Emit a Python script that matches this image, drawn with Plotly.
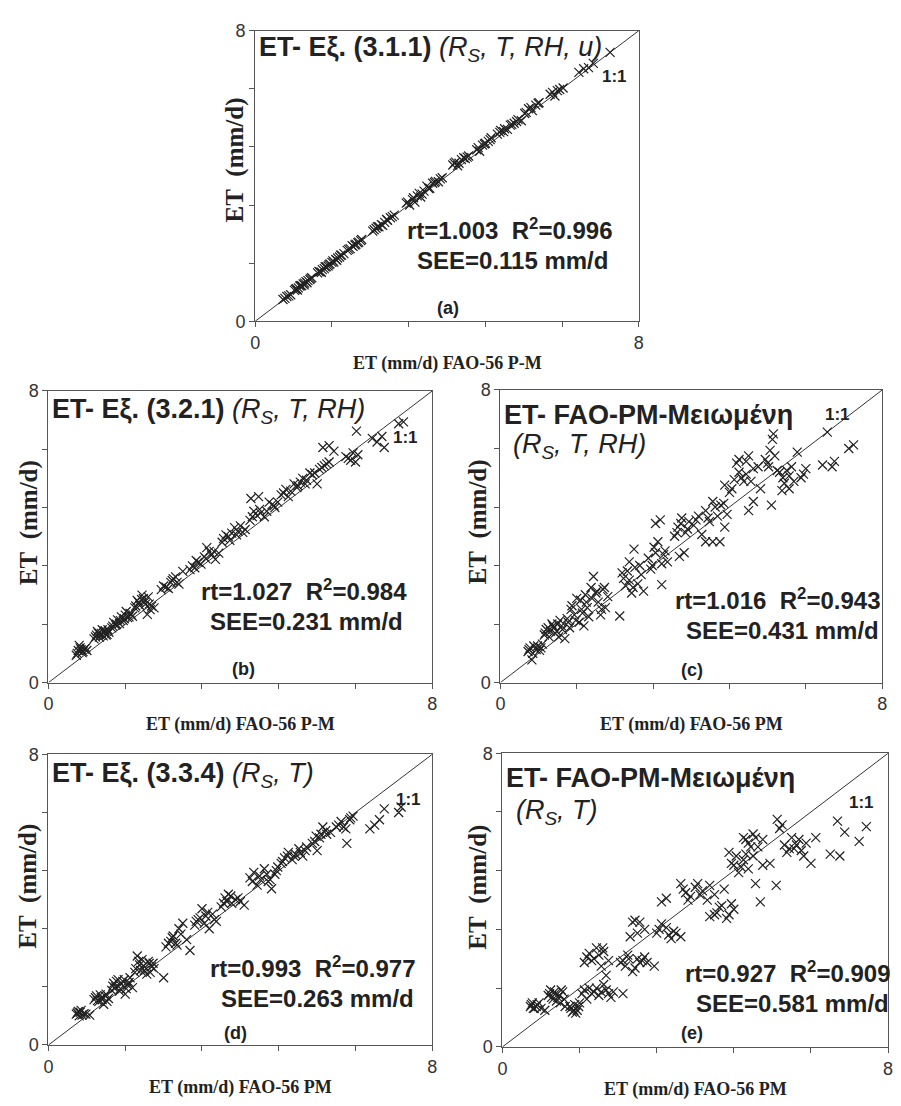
import plotly.graph_objects as go

# ---------------- data ----------------
a_x = [0.58,0.62,0.66,0.70,0.74, 0.82,0.86,0.90,0.93,0.97,1.00,1.03,1.06,1.10,1.14,1.18,
       1.30,1.35,1.40,1.44,1.48,1.52,1.56,1.60,1.64,1.68,1.72,1.76,1.80,1.85,
       1.92,1.98,2.04,2.10,2.16,2.22, 2.45,2.52,2.58,2.63,2.70,2.76,2.82,2.90,
       3.15,3.22,3.28,3.33,3.38,3.45,3.52, 3.58,3.64,3.70,3.76,3.82,3.90,
       4.12,4.18,4.25,4.30,4.38,4.45, 4.62,4.68,4.74,4.80,4.86,4.92,
       5.05,5.12,5.20,5.26,5.32,5.40,5.48,5.55, 5.62,5.70,5.78,5.85,5.92,
       6.15,6.25,6.35,6.42, 6.75,6.85,6.95,7.05, 7.40]
a_y = [0.60,0.63,0.68,0.70,0.73, 0.85,0.90,0.92,0.97,0.98,1.03,1.05,1.09,1.12,1.15,1.20,
       1.33,1.36,1.42,1.45,1.50,1.52,1.58,1.62,1.63,1.70,1.74,1.77,1.82,1.86,
       1.95,2.00,2.06,2.12,2.18,2.25, 2.48,2.56,2.60,2.66,2.72,2.78,2.85,2.92,
       3.25,3.20,3.35,3.28,3.45,3.42,3.58, 3.72,3.66,3.80,3.85,3.84,3.95,
       4.30,4.38,4.35,4.45,4.48,4.55, 4.72,4.68,4.85,4.90,4.95,5.05,
       5.15,5.25,5.30,5.28,5.40,5.45,5.55,5.52, 5.72,5.85,5.80,5.95,6.02,
       6.25,6.20,6.38,6.42, 6.85,6.95,6.98,7.10, 7.40]
a_x_more = [0.84,0.88,0.95,1.02,1.08,1.16, 1.33,1.38,1.46,1.54,1.62,1.70,1.78,
            1.95,2.02,2.08,2.14,2.20, 2.48,2.55,2.66,2.74,2.86, 3.18,3.30,3.42,3.48,
            3.62,3.74,3.86, 4.15,4.22,4.35,4.42, 4.65,4.78,4.90, 5.10,5.18,5.35,5.45,
            5.65,5.75,5.90, 6.20,6.30]
a_y_more = [0.88,0.86,0.98,1.00,1.06,1.18, 1.37,1.35,1.50,1.56,1.66,1.68,1.82,
            1.98,2.08,2.10,2.16,2.22, 2.52,2.60,2.64,2.80,2.88, 3.28,3.40,3.52,3.50,
            3.65,3.82,3.92, 4.35,4.28,4.50,4.52, 4.78,4.88,5.00, 5.20,5.22,5.42,5.50,
            5.75,5.88,6.00, 6.30,6.35]

b_x = [0.58,0.62,0.66,0.70,0.75,0.80,0.64,
       0.95,1.00,1.02,1.06,1.10,1.14,1.18,1.22,1.26,
       1.32,1.36,1.40,1.44,1.48,1.52,1.56,1.60,1.65,1.70,1.75,
       1.80,1.85,1.90,1.95,2.00,2.06,2.10,2.15,2.20,1.98,
       2.35,2.45,2.55,2.60,2.65,2.72,2.80,
       2.95,3.05,3.12,3.25,3.30,3.35,3.40,3.48,3.55,
       3.62,3.70,3.75,3.82,3.88,3.95,4.05,4.10,
       4.20,4.28,4.35,4.42,4.50,4.60,4.66,4.72,4.78,4.22,4.38,
       4.85,4.95,5.05,5.12,5.20,5.30,5.38,5.45,5.60,
       5.55,5.65,5.75,5.85,
       5.72,5.85,5.95,
       6.20,6.30,6.40,6.35,
       6.42,
       6.75,6.85,6.95,7.00,
       7.30,7.40]
b_y = [0.75,0.88,0.95,0.82,0.92,0.88,1.02,
       1.20,1.30,1.40,1.25,1.35,1.28,1.42,1.32,1.38,
       1.50,1.65,1.58,1.72,1.62,1.80,1.70,1.85,1.78,1.90,1.82,
       2.05,2.25,2.12,2.40,2.20,1.87,2.15,2.10,2.05,2.30,
       2.55,2.62,2.75,2.85,2.90,2.70,3.05,
       3.10,3.15,3.30,3.45,3.70,3.60,3.50,3.38,3.55,
       3.85,4.05,4.00,4.10,4.25,4.15,4.12,4.20,
       4.45,4.70,4.58,4.65,4.55,4.95,4.88,4.80,4.95,5.05,5.10,
       5.15,5.30,5.25,5.45,5.40,5.60,5.55,5.75,5.45,
       5.75,5.85,5.95,6.05,
       6.45,6.50,6.35,
       6.20,6.10,6.05,6.30,
       6.90,
       6.70,6.60,6.75,6.45,
       7.10,7.15]
b_x_more = [0.60,0.68,0.72,0.78, 0.98,1.04,1.08,1.12,1.16,1.20,1.24,
            1.34,1.42,1.50,1.58,1.62,1.68,1.72, 1.82,1.88,1.94,2.02,2.08,2.12,
            2.40,2.50,2.58,2.68, 3.00,3.08,3.18,3.28,3.45, 3.65,3.78,3.92,4.00,
            4.25,4.40,4.55,4.70, 4.90,5.00,5.18,5.25,5.35, 5.50,5.70,5.80, 6.25,6.45]
b_y_more = [0.80,0.90,0.85,0.95, 1.25,1.35,1.30,1.45,1.38,1.30,1.45,
            1.55,1.60,1.70,1.75,1.95,1.80,1.88, 2.10,2.20,2.28,2.15,2.35,2.00,
            2.65,2.58,2.80,2.75, 3.20,3.35,3.25,3.40,3.60, 3.95,3.90,4.05,4.30,
            4.55,4.75,4.70,4.85, 5.20,5.10,5.35,5.50,5.45, 5.70,5.90,6.00, 6.15,6.25]

c_x = [0.58,0.62,0.66,0.70,0.75,0.82,0.88,
       0.92,0.96,1.00,1.05,1.10,1.15,1.20,1.25,1.30,1.35,1.22,
       1.40,1.45,1.50,1.55,1.60,1.65,1.70,1.75,1.80,1.85,1.78,
       1.90,1.95,2.00,2.05,2.10,2.15,2.20,2.25,
       2.50,
       2.55,2.62,2.70,2.75,2.82,2.88,2.95,3.00,2.80,2.70,
       3.10,3.18,3.25,3.30,3.38,3.45,3.38,3.25,3.35,
       3.65,3.72,3.80,3.88,3.95,4.05,4.15,4.22,3.75,3.85,
       4.30,4.45,4.60,
       4.30,4.38,4.45,4.55,4.62,4.70,4.75,
       4.70,4.80,4.90,4.95,5.05,5.15,5.25,5.30,5.00,5.15,
       5.20,5.30,5.45,
       5.55,5.65,5.70,5.72,5.62,5.80,5.68,
       5.85,5.95,6.05,6.10,5.90,6.05,
       6.22,6.30,6.40,
       6.75,6.95,7.00,6.85,
       7.30,7.40]
c_y = [0.85,0.95,0.62,1.00,0.90,0.88,1.05,
       1.30,1.45,1.50,1.40,1.55,1.35,1.60,1.70,1.45,1.20,1.25,
       1.75,1.50,2.10,1.85,2.30,1.65,2.00,1.55,2.20,1.80,2.40,
       2.60,2.90,2.45,2.20,1.85,2.55,2.05,2.35,
       1.82,
       3.00,2.65,2.80,2.45,3.15,2.70,2.95,2.50,3.65,3.30,
       3.40,3.20,3.55,3.85,3.25,3.60,2.68,4.35,4.45,
       4.00,4.25,4.50,4.10,4.40,4.30,4.55,4.05,3.45,3.55,
       3.85,3.85,3.85,
       4.70,4.40,4.95,4.55,4.85,4.25,4.60,
       5.40,5.20,5.55,6.00,5.60,5.70,5.50,5.85,6.10,6.05,
       4.70,4.95,5.30,
       6.10,6.35,6.65,6.80,5.90,5.80,4.85,
       5.75,5.45,5.65,5.90,5.25,5.30,
       6.30,5.60,5.85,
       5.95,5.90,6.05,6.85,
       6.40,6.50]
c_x_more = [0.60,0.68,0.78,0.85, 0.94,1.02,1.08,1.12,1.18,1.28,
            1.42,1.48,1.58,1.68,1.72,1.82, 1.92,2.02,2.12,2.18, 2.58,2.66,2.78,2.92,
            3.15,3.22,3.42,3.50, 3.70,3.78,3.92,4.10, 4.35,4.50,4.68,
            4.85,5.00,5.10,5.20, 5.40,5.60,5.75, 5.92,6.00,6.15,6.35]
c_y_more = [0.90,0.80,1.00,0.95, 1.35,1.25,1.60,1.50,1.40,1.55,
            1.65,2.00,1.70,2.25,1.90,2.05, 2.30,2.50,2.00,2.60, 2.85,3.05,2.60,3.20,
            3.10,3.70,3.50,3.30, 4.10,4.35,4.20,4.45, 4.50,4.80,4.90,
            5.30,5.75,5.50,6.20, 5.90,6.00,6.20, 5.60,5.80,5.50,5.70]

d_x = [0.58,0.62,0.66,0.70,0.78,0.86,
       0.95,1.00,1.05,1.10,1.15,1.20,1.25,
       1.32,1.36,1.40,1.45,1.50,1.55,1.60,1.65,1.70,1.75,
       1.80,1.85,1.90,1.95,2.00,2.05,2.10,2.15,2.20,2.40,
       2.45,2.55,2.60,2.65,2.72,2.80,2.88,2.95,
       3.05,3.12,3.20,3.28,3.35,3.42,3.50,
       3.60,3.68,3.75,3.82,3.90,4.00,4.08,
       4.20,4.28,4.35,4.42,4.50,4.58,4.65,4.72,4.78,
       4.85,4.92,5.00,5.08,5.15,5.22,5.30,5.38,
       5.50,5.58,5.65,5.72,5.80,5.88,5.60,
       6.00,6.10,6.20,6.28,6.35,6.22,
       6.70,6.80,6.90,
       7.00,7.30,7.35]
d_y = [0.85,0.92,0.90,0.82,0.85,0.82,
       1.25,1.35,1.20,1.30,1.12,1.40,1.28,
       1.50,1.70,1.60,1.80,1.55,1.75,1.40,1.65,1.85,1.58,
       2.00,2.45,2.20,2.35,2.05,1.95,2.25,2.15,2.10,1.85,
       2.70,2.85,3.00,2.80,3.20,3.35,2.90,2.60,
       3.30,3.45,3.75,3.55,3.20,3.60,3.40,
       3.80,4.05,4.15,3.90,4.00,3.95,3.85,
       4.60,4.75,4.40,4.55,4.85,4.50,4.30,4.70,4.90,
       5.00,5.15,5.30,5.10,5.25,5.40,5.20,5.45,
       5.55,5.75,5.70,6.00,5.80,5.85,5.35,
       6.00,6.15,5.95,6.20,6.30,5.55,
       5.95,6.05,6.20,
       6.50,6.40,6.55]
d_x_more = [0.60,0.64,0.68,0.74, 0.98,1.02,1.08,1.12,1.18,1.22,
            1.34,1.38,1.42,1.48,1.52,1.58,1.62,1.68, 1.82,1.88,1.92,1.98,2.08,2.12,2.18,
            2.50,2.58,2.68,2.76, 3.08,3.16,3.25,3.32,3.46, 3.65,3.72,3.80,3.95,
            4.25,4.40,4.55,4.62,4.75, 4.88,4.98,5.12,5.25,5.35, 5.55,5.68,5.78,
            6.05,6.15,6.30]
d_y_more = [0.88,0.80,0.95,0.86, 1.30,1.22,1.38,1.25,1.35,1.20,
            1.62,1.55,1.75,1.48,1.68,1.80,1.55,1.72, 2.10,2.30,2.05,2.18,2.30,2.00,2.25,
            2.80,2.95,2.75,3.05, 3.40,3.50,3.35,3.65,3.45, 3.90,3.95,4.10,4.05,
            4.50,4.65,4.70,4.55,4.80, 5.05,5.20,5.20,5.30,5.35, 5.60,5.80,5.90,
            6.05,6.00,6.25]

e_x = [0.58,0.62,0.66,0.72,0.80,0.88,
       0.95,1.00,1.05,1.10,1.15,1.20,1.25,1.30,
       1.40,1.45,1.50,1.55,1.60,
       1.65,1.75,1.80,1.90,2.00,2.10,2.20,2.30,2.50,
       1.70,1.80,1.90,1.95,2.05,2.10,2.20,2.15,
       2.45,2.55,2.60,2.70,2.80,2.90,3.00,3.15,
       2.65,2.75,2.85,2.95,
       3.20,3.30,3.40,3.50,3.60,3.70,
       3.30,3.40,
       3.70,3.80,3.90,4.00,4.15,4.25,
       4.30,4.45,4.55,4.65,4.75,4.80,
       4.30,4.40,4.60,
       4.70,4.80,4.90,5.00,5.10,5.20,
       5.00,5.10,5.20,5.30,5.40,
       5.25,5.35,5.68,5.40,5.55,
       5.70,5.80,5.85,5.90,6.00,
       6.05,6.15,6.25,6.30,6.40,6.50,
       6.80,7.00,
       6.95,
       7.10,7.40,7.55]
e_y = [1.10,1.20,1.05,1.15,1.05,1.00,
       1.40,1.55,1.30,1.45,1.35,1.20,1.50,1.10,
       1.10,0.95,1.15,1.00,1.20,
       1.45,1.30,1.60,1.50,1.40,1.70,1.45,1.50,1.45,
       2.30,2.55,2.40,2.70,2.20,2.60,2.35,1.95,
       2.30,2.20,2.50,2.05,2.40,2.35,2.30,2.20,
       3.00,3.45,3.40,3.20,
       3.10,3.35,3.25,2.95,3.10,3.00,
       3.95,4.05,
       4.45,4.20,4.10,4.35,4.25,4.00,
       3.55,3.65,3.85,3.50,3.90,3.75,
       4.40,4.15,4.30,
       5.30,4.95,4.75,5.10,4.85,5.20,
       5.70,5.55,5.80,5.45,5.65,
       4.45,3.95,4.40,4.95,5.00,
       6.20,6.05,5.50,5.30,5.70,
       5.40,5.65,5.20,5.55,5.00,5.70,
       5.25,5.20,
       6.15,
       5.85,5.60,6.00]
e_x_more = [0.60,0.64,0.70,0.76, 0.98,1.02,1.08,1.12,1.18,1.22,1.28,
            1.42,1.48,1.52,1.58, 1.70,1.85,1.95,2.05,2.15,2.25, 1.75,1.85,2.00,2.08,
            2.50,2.62,2.75,2.85,2.95, 2.70,2.80, 3.25,3.45,3.55, 3.75,3.85,4.05,4.10,
            4.40,4.50,4.70, 4.75,4.85,4.95,5.05, 5.05,5.15,5.25, 5.75,5.95,6.10,6.20]
e_y_more = [1.15,1.05,1.10,1.20, 1.45,1.35,1.50,1.25,1.40,1.55,1.30,
            1.05,1.00,0.92,1.10, 1.55,1.45,1.60,1.50,1.55,1.35, 2.45,2.35,2.50,2.70,
            2.35,2.40,2.15,2.30,2.45, 3.40,3.10, 3.20,3.05,3.15, 4.30,4.00,4.45,4.15,
            3.60,3.80,3.60, 5.00,5.20,4.90,5.25, 5.65,5.45,5.70, 5.95,5.40,5.50,5.35]

axis_range = [0, 8]
tick_vals = [0, 1.6, 3.2, 4.8, 6.4, 8]
tick_text = ["0", "", "", "", "", "8"]

panels = [
    dict(x=a_x + a_x_more, y=a_y + a_y_more, xd=[0.2808, 0.7114], yd=[0.7134, 0.9810],
         title=["<b>ET- Εξ. (3.1.1)</b> <i>(R<sub>S</sub>, T, RH, u)</i>"], tpos=[(0.004, 0.936)],
         one=(0.936, 0.841), rt="rt=1.003\u00a0\u00a0R<sup>2</sup>=0.996", see="SEE=0.115 mm/d",
         s1=(0.663, 0.318), s2=(0.670, 0.209), lab="(a)", lpos=(0.503, 0.047),
         ytx=-0.052, yty=0.554, xtitle="ET (mm/d) FAO-56 P-M"),
    dict(x=b_x + b_x_more, y=b_y + b_y_more, xd=[0.0488, 0.4795], yd=[0.3807, 0.6492],
         title=["<b>ET- Εξ. (3.2.1)</b> <i>(R<sub>S</sub>, T, RH)</i>"], tpos=[(0.004, 0.933)],
         one=(0.930, 0.842), rt="rt=1.027\u00a0\u00a0R<sup>2</sup>=0.984", see="SEE=0.231 mm/d",
         s1=(0.665, 0.316), s2=(0.673, 0.209), lab="(b)", lpos=(0.507, 0.047),
         ytx=-0.049, yty=0.549, xtitle="ET (mm/d) FAO-56 P-M"),
    dict(x=c_x + c_x_more, y=c_y + c_y_more, xd=[0.5560, 0.9845], yd=[0.3807, 0.6501],
         title=["<b>ET- FAO-PM-Μειωμένη</b>", "<i>(R<sub>S</sub>, T, RH)</i>"],
         tpos=[(0.003, 0.916), (0.029, 0.809)],
         one=(0.883, 0.916), rt="rt=1.016\u00a0\u00a0R<sup>2</sup>=0.943", see="SEE=0.431 mm/d",
         s1=(0.728, 0.285), s2=(0.738, 0.178), lab="(c)", lpos=(0.503, 0.044),
         ytx=-0.060, yty=0.549, xtitle="ET (mm/d) FAO-56 PM"),
    dict(x=d_x + d_x_more, y=d_y + d_y_more, xd=[0.0488, 0.4795], yd=[0.0470, 0.3146],
         title=["<b>ET- Εξ. (3.3.4)</b> <i>(R<sub>S</sub>, T)</i>"], tpos=[(0.004, 0.929)],
         one=(0.938, 0.845), rt="rt=0.993\u00a0\u00a0R<sup>2</sup>=0.977", see="SEE=0.263 mm/d",
         s1=(0.689, 0.267), s2=(0.700, 0.159), lab="(d)", lpos=(0.487, 0.041),
         ytx=-0.054, yty=0.547, xtitle="ET (mm/d) FAO-56 PM"),
    dict(x=e_x + e_x_more, y=e_y + e_y_more, xd=[0.5583, 0.9911], yd=[0.0452, 0.3156],
         title=["<b>ET- FAO-PM-Μειωμένη</b>", "<i>(R<sub>S</sub>, T)</i>"],
         tpos=[(0.003, 0.916), (0.029, 0.800)],
         one=(0.931, 0.833), rt="rt=0.927\u00a0\u00a0R<sup>2</sup>=0.909", see="SEE=0.581 mm/d",
         s1=(0.741, 0.254), s2=(0.751, 0.147), lab="(e)", lpos=(0.492, 0.047),
         ytx=-0.064, yty=0.545, xtitle="ET (mm/d) FAO-56 PM"),
]

SANS = "Liberation Sans, Arial, sans-serif"
SERIF = "Liberation Serif, Times New Roman, serif"
INK = "#222222"

fig = go.Figure()
layout = dict(width=901, height=1106, margin=dict(l=0, r=0, t=0, b=0),
              paper_bgcolor="white", plot_bgcolor="white", showlegend=False)
annotations = []


def note(text, x, y, xr, yr, size, family=SANS, xanchor="center", angle=0):
    return dict(text=text, x=x, y=y, xref=xr, yref=yr, xanchor=xanchor, yanchor="middle",
                showarrow=False, textangle=angle,
                font=dict(family=family, size=size, color=INK))


for i, p in enumerate(panels, start=1):
    assert len(p["x"]) == len(p["y"])
    xa = "x" if i == 1 else f"x{i}"
    ya = "y" if i == 1 else f"y{i}"
    xk = "xaxis" if i == 1 else f"xaxis{i}"
    yk = "yaxis" if i == 1 else f"yaxis{i}"
    common = dict(range=axis_range, tickmode="array", tickvals=tick_vals, ticktext=tick_text,
                  ticks="outside", ticklen=5, tickwidth=1, tickcolor="#555",
                  showline=True, linecolor="#555", linewidth=1, mirror=True,
                  showgrid=False, zeroline=False,
                  tickfont=dict(family=SANS, size=18, color="#333"))
    layout[xk] = dict(domain=p["xd"], anchor=ya, **common)
    layout[yk] = dict(domain=p["yd"], anchor=xa, **common)

    # 1:1 line
    fig.add_trace(go.Scatter(x=axis_range, y=axis_range, mode="lines",
                             line=dict(color="#333", width=1), xaxis=xa, yaxis=ya,
                             hoverinfo="skip"))
    # points
    fig.add_trace(go.Scatter(x=p["x"], y=p["y"], mode="markers",
                             marker=dict(symbol="x-thin", size=9,
                                         line=dict(color=INK, width=1.2), color=INK),
                             xaxis=xa, yaxis=ya))

    xr = f"{xa} domain"
    yr = f"{ya} domain"
    for t, (tx, ty) in zip(p["title"], p["tpos"]):
        annotations.append(note(t, tx, ty, xr, yr, 27, xanchor="left"))
    annotations.append(note("<b>1:1</b>", p["one"][0], p["one"][1], xr, yr, 17))
    annotations.append(note(f"<b>{p['rt']}</b>", p["s1"][0], p["s1"][1], xr, yr, 24))
    annotations.append(note(f"<b>{p['see']}</b>", p["s2"][0], p["s2"][1], xr, yr, 24))
    annotations.append(note(f"<b>{p['lab']}</b>", p["lpos"][0], p["lpos"][1], xr, yr, 18))
    annotations.append(note("<b>ET\u00a0\u00a0(mm/d)</b>", p["ytx"], p["yty"], xr, yr, 25,
                            family=SERIF, angle=-90))
    annotations.append(note(f"<b>{p['xtitle']}</b>", 0.5, -0.145, xr, yr, 18, family=SERIF))

layout["annotations"] = annotations
fig.update_layout(**layout)
fig.write_html("out.html")
